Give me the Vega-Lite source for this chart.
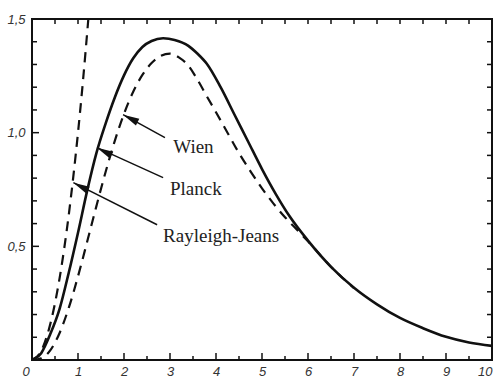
{
  "$schema": "https://vega.github.io/schema/vega-lite/v6.json",
  "autosize": "none",
  "width": 460,
  "height": 341,
  "padding": {"left": 32, "top": 19, "right": 10, "bottom": 17},
  "background": "white",
  "config": {
    "view": {"stroke": "#111", "strokeWidth": 2},
    "axis": {"domain": false, "grid": false, "title": null, "ticks": false,
             "labelFont": "Liberation Sans", "labelFontStyle": "italic", "labelFontSize": 13, "labelColor": "#333"}
  },
  "datasets": {
    "curves": [
      {"x": 0, "y": 0, "s": "Planck"}, {"x": 0.2, "y": 0.03, "s": "Planck"}, {"x": 0.4, "y": 0.115, "s": "Planck"},
      {"x": 0.6, "y": 0.225, "s": "Planck"}, {"x": 0.8, "y": 0.385, "s": "Planck"}, {"x": 1.0, "y": 0.56, "s": "Planck"},
      {"x": 1.2, "y": 0.745, "s": "Planck"}, {"x": 1.4, "y": 0.91, "s": "Planck"}, {"x": 1.6, "y": 1.04, "s": "Planck"},
      {"x": 1.8, "y": 1.155, "s": "Planck"}, {"x": 2.0, "y": 1.252, "s": "Planck"}, {"x": 2.2, "y": 1.327, "s": "Planck"},
      {"x": 2.4, "y": 1.377, "s": "Planck"}, {"x": 2.6, "y": 1.403, "s": "Planck"}, {"x": 2.85, "y": 1.415, "s": "Planck"},
      {"x": 3.1, "y": 1.408, "s": "Planck"}, {"x": 3.4, "y": 1.382, "s": "Planck"}, {"x": 3.6, "y": 1.347, "s": "Planck"},
      {"x": 3.8, "y": 1.303, "s": "Planck"}, {"x": 4.1, "y": 1.2, "s": "Planck"}, {"x": 4.4, "y": 1.08, "s": "Planck"},
      {"x": 4.7, "y": 0.96, "s": "Planck"}, {"x": 5.0, "y": 0.84, "s": "Planck"}, {"x": 5.3, "y": 0.73, "s": "Planck"},
      {"x": 5.6, "y": 0.632, "s": "Planck"}, {"x": 6.0, "y": 0.525, "s": "Planck"}, {"x": 6.5, "y": 0.41, "s": "Planck"},
      {"x": 7.0, "y": 0.318, "s": "Planck"}, {"x": 7.5, "y": 0.245, "s": "Planck"}, {"x": 8.0, "y": 0.185, "s": "Planck"},
      {"x": 8.5, "y": 0.14, "s": "Planck"}, {"x": 9.0, "y": 0.102, "s": "Planck"}, {"x": 9.5, "y": 0.077, "s": "Planck"},
      {"x": 10.0, "y": 0.062, "s": "Planck"},
      {"x": 0, "y": 0, "s": "Wien"}, {"x": 0.2, "y": 0.007, "s": "Wien"}, {"x": 0.4, "y": 0.043, "s": "Wien"},
      {"x": 0.6, "y": 0.119, "s": "Wien"}, {"x": 0.8, "y": 0.23, "s": "Wien"}, {"x": 1.0, "y": 0.368, "s": "Wien"},
      {"x": 1.2, "y": 0.521, "s": "Wien"}, {"x": 1.4, "y": 0.677, "s": "Wien"}, {"x": 1.6, "y": 0.827, "s": "Wien"},
      {"x": 1.8, "y": 0.964, "s": "Wien"}, {"x": 2.0, "y": 1.083, "s": "Wien"}, {"x": 2.2, "y": 1.18, "s": "Wien"},
      {"x": 2.4, "y": 1.254, "s": "Wien"}, {"x": 2.6, "y": 1.306, "s": "Wien"}, {"x": 2.8, "y": 1.338, "s": "Wien"},
      {"x": 3.0, "y": 1.348, "s": "Wien"}, {"x": 3.2, "y": 1.33, "s": "Wien"}, {"x": 3.4, "y": 1.295, "s": "Wien"},
      {"x": 3.6, "y": 1.232, "s": "Wien"}, {"x": 3.8, "y": 1.16, "s": "Wien"}, {"x": 4.0, "y": 1.09, "s": "Wien"},
      {"x": 4.25, "y": 1.0, "s": "Wien"}, {"x": 4.5, "y": 0.91, "s": "Wien"}, {"x": 4.75, "y": 0.83, "s": "Wien"},
      {"x": 5.0, "y": 0.755, "s": "Wien"}, {"x": 5.25, "y": 0.688, "s": "Wien"}, {"x": 5.5, "y": 0.628, "s": "Wien"},
      {"x": 5.75, "y": 0.575, "s": "Wien"}, {"x": 6.0, "y": 0.522, "s": "Wien"}, {"x": 6.5, "y": 0.41, "s": "Wien"},
      {"x": 7.0, "y": 0.316, "s": "Wien"},
      {"x": 0, "y": 0, "s": "RJ"}, {"x": 0.2, "y": 0.04, "s": "RJ"}, {"x": 0.4, "y": 0.16, "s": "RJ"},
      {"x": 0.6, "y": 0.36, "s": "RJ"}, {"x": 0.8, "y": 0.64, "s": "RJ"}, {"x": 1.0, "y": 1.0, "s": "RJ"},
      {"x": 1.1, "y": 1.21, "s": "RJ"}, {"x": 1.2247, "y": 1.5, "s": "RJ"}
    ],
    "labels": [
      {"label": "Wien", "tx": 3.07, "ty": 0.938, "x1": 2.89, "y1": 0.978, "x2": 1.98, "y2": 1.079},
      {"label": "Planck", "tx": 3.0, "ty": 0.753, "x1": 2.85, "y1": 0.802, "x2": 1.413, "y2": 0.934},
      {"label": "Rayleigh-Jeans", "tx": 2.85, "ty": 0.546, "x1": 2.72, "y1": 0.595, "x2": 0.9, "y2": 0.78}
    ],
    "xt": [
      {"v": 0.5, "m": 0}, {"v": 1, "m": 1}, {"v": 1.5, "m": 0}, {"v": 2, "m": 1}, {"v": 2.5, "m": 0},
      {"v": 3, "m": 1}, {"v": 3.5, "m": 0}, {"v": 4, "m": 1}, {"v": 4.5, "m": 0}, {"v": 5, "m": 1},
      {"v": 5.5, "m": 0}, {"v": 6, "m": 1}, {"v": 6.5, "m": 0}, {"v": 7, "m": 1}, {"v": 7.5, "m": 0},
      {"v": 8, "m": 1}, {"v": 8.5, "m": 0}, {"v": 9, "m": 1}, {"v": 9.5, "m": 0}
    ],
    "yt": [
      {"v": 0.1, "m": 0}, {"v": 0.2, "m": 0}, {"v": 0.3, "m": 0}, {"v": 0.4, "m": 0}, {"v": 0.5, "m": 1},
      {"v": 0.6, "m": 0}, {"v": 0.7, "m": 0}, {"v": 0.8, "m": 0}, {"v": 0.9, "m": 0}, {"v": 1.0, "m": 1},
      {"v": 1.1, "m": 0}, {"v": 1.2, "m": 0}, {"v": 1.3, "m": 0}, {"v": 1.4, "m": 0}
    ]
  },
  "layer": [
    {
      "data": {"name": "curves"},
      "transform": [{"filter": "datum.s == 'Planck'"}],
      "mark": {"type": "line", "color": "#111", "strokeWidth": 2.6, "interpolate": "monotone", "clip": true},
      "encoding": {
        "x": {"field": "x", "type": "quantitative", "scale": {"domain": [0, 10], "nice": false},
              "axis": {"orient": "bottom", "values": [0,1,2,3,4,5,6,7,8,9,10], "labelPadding": 5,
                       "labelOffset": {"condition": {"test": "datum.value == 0", "value": -10}, "value": 0}}},
        "y": {"field": "y", "type": "quantitative", "scale": {"domain": [0, 1.5], "nice": false},
              "axis": {"orient": "left", "values": [0.5, 1.0, 1.5],
                       "labelExpr": "replace(format(datum.value, '.1f'), '.', ',')", "labelPadding": 7}}
      }
    },
    {
      "data": {"name": "curves"},
      "transform": [{"filter": "datum.s == 'Wien'"}],
      "mark": {"type": "line", "color": "#111", "strokeWidth": 2.2, "strokeDash": [10, 7], "interpolate": "monotone", "clip": true},
      "encoding": {
        "x": {"field": "x", "type": "quantitative", "axis": null},
        "y": {"field": "y", "type": "quantitative", "axis": null}
      }
    },
    {
      "data": {"name": "curves"},
      "transform": [{"filter": "datum.s == 'RJ'"}],
      "mark": {"type": "line", "color": "#111", "strokeWidth": 2.2, "strokeDash": [10, 7], "interpolate": "monotone", "clip": true},
      "encoding": {
        "x": {"field": "x", "type": "quantitative", "axis": null},
        "y": {"field": "y", "type": "quantitative", "axis": null}
      }
    },
    {
      "data": {"name": "xt"},
      "transform": [{"filter": "datum.m == 1"}],
      "mark": {"type": "tick", "orient": "vertical", "color": "#111", "size": 7, "thickness": 1.5, "opacity": 1, "yOffset": -3.5},
      "encoding": {"x": {"field": "v", "type": "quantitative", "axis": null}, "y": {"datum": 0, "type": "quantitative", "axis": null}}
    },
    {
      "data": {"name": "xt"},
      "transform": [{"filter": "datum.m == 0"}],
      "mark": {"type": "tick", "orient": "vertical", "color": "#111", "size": 4, "thickness": 1.5, "opacity": 1, "yOffset": -2},
      "encoding": {"x": {"field": "v", "type": "quantitative", "axis": null}, "y": {"datum": 0, "type": "quantitative", "axis": null}}
    },
    {
      "data": {"name": "xt"},
      "mark": {"type": "tick", "orient": "vertical", "color": "#111", "size": 5, "thickness": 1.5, "opacity": 1, "yOffset": 2.5},
      "encoding": {"x": {"field": "v", "type": "quantitative", "axis": null}, "y": {"datum": 1.5, "type": "quantitative", "axis": null}}
    },
    {
      "data": {"name": "yt"},
      "transform": [{"filter": "datum.m == 1"}],
      "mark": {"type": "tick", "orient": "horizontal", "color": "#111", "size": 7, "thickness": 1.5, "opacity": 1, "xOffset": 3.5},
      "encoding": {"y": {"field": "v", "type": "quantitative", "axis": null}, "x": {"datum": 0, "type": "quantitative", "axis": null}}
    },
    {
      "data": {"name": "yt"},
      "transform": [{"filter": "datum.m == 0"}],
      "mark": {"type": "tick", "orient": "horizontal", "color": "#111", "size": 5, "thickness": 1.5, "opacity": 1, "xOffset": 2.5},
      "encoding": {"y": {"field": "v", "type": "quantitative", "axis": null}, "x": {"datum": 0, "type": "quantitative", "axis": null}}
    },
    {
      "data": {"name": "yt"},
      "mark": {"type": "tick", "orient": "horizontal", "color": "#111", "size": 5, "thickness": 1.5, "opacity": 1, "xOffset": -2.5},
      "encoding": {"y": {"field": "v", "type": "quantitative", "axis": null}, "x": {"datum": 10, "type": "quantitative", "axis": null}}
    },
    {
      "data": {"name": "labels"},
      "mark": {"type": "rule", "color": "#111", "strokeWidth": 1.5},
      "encoding": {
        "x": {"field": "x1", "type": "quantitative", "axis": null},
        "y": {"field": "y1", "type": "quantitative", "axis": null},
        "x2": {"field": "x2"},
        "y2": {"field": "y2"}
      }
    },
    {
      "data": {"name": "labels"},
      "mark": {"type": "point", "shape": "M0,0L0.5,2.2L-0.5,2.2Z", "size": 220, "filled": true, "color": "#111", "opacity": 1, "angle": 297},
      "encoding": {
        "x": {"field": "x2", "type": "quantitative", "axis": null},
        "y": {"field": "y2", "type": "quantitative", "axis": null}
      }
    },
    {
      "data": {"name": "labels"},
      "mark": {"type": "text", "align": "left", "baseline": "middle", "font": "Liberation Serif", "fontSize": 19, "color": "#222"},
      "encoding": {
        "x": {"field": "tx", "type": "quantitative", "axis": null},
        "y": {"field": "ty", "type": "quantitative", "axis": null},
        "text": {"field": "label"}
      }
    }
  ],
  "resolve": {"axis": {"x": "independent", "y": "independent"}}
}
